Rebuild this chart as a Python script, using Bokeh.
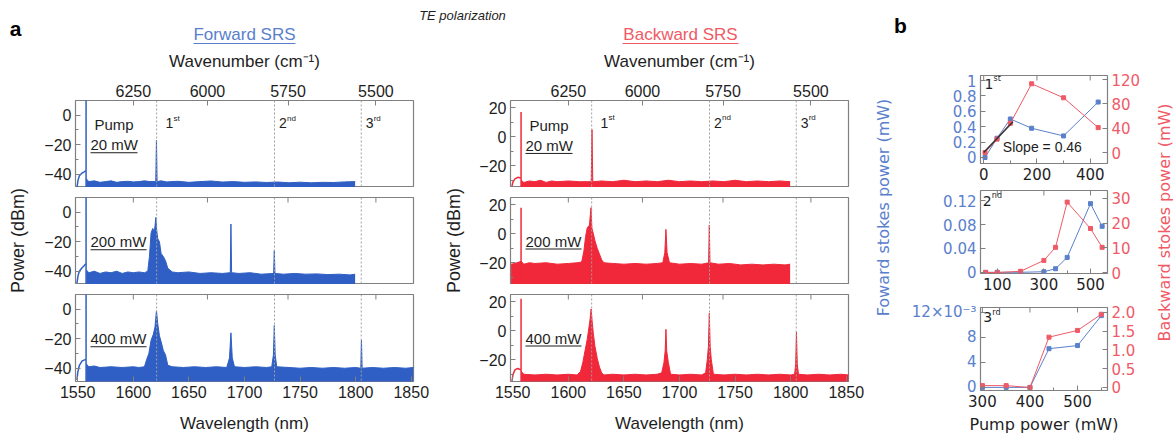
import math
from bokeh.plotting import figure
from bokeh.models import Range1d, LinearAxis, FixedTicker, CustomJSTickFormatter, Span
from bokeh.layouts import row, column
from bokeh.embed import file_html
from bokeh.resources import INLINE
from bokeh.core.properties import value

FONT = "Liberation Sans"
FONT_B = "DejaVu Sans"
BLUE = "#2f5fc4"
RED = "#f0283a"
BLUE_L = "#5a80cc"
RED_L = "#ef5a66"
FRAME = "#808080"
TXT = "#1e1e1e"

# ---------------- data : panel a ----------------
wavelength_ticks = [1550, 1600, 1650, 1700, 1750, 1800, 1850]
wavenumber_ticks = [6250, 6000, 5750, 5500]
fwd_db_ticks = [-40, -20, 0]
bwd_db_ticks = [-20, 0, 20]
pump_wl = 1557.5
stokes_wl = [1621, 1727, 1805]
stokes_names = [("1", "st"), ("2", "nd"), ("3", "rd")]
stokes_label_wl = [1629, 1731, 1809]
pump_powers_a = ["20 mW", "200 mW", "400 mW"]
fwd_pump_peak = [15, 15, 15]
bwd_pump_peak = [17, 18, 22]

fwd_20mw = [
    (1557.6, -43), (1560, -45), (1565, -44.5), (1570, -45.5), (1575, -45), (1580, -44.5),
    (1585, -45.5), (1590, -45), (1595, -44.8), (1600, -45.2), (1605, -45), (1610, -44.5),
    (1615, -45), (1620.2, -45), (1620.8, -17), (1621.4, -45), (1625, -44.5), (1630, -45.2),
    (1640, -44.8), (1650, -45.5), (1660, -45), (1670, -44.6), (1680, -45.3), (1690, -45),
    (1700, -45.5), (1710, -45.2), (1720, -45.6), (1730, -45.3), (1740, -45.8), (1750, -45.4),
    (1760, -45.8), (1770, -45.5), (1780, -45.6), (1790, -45.2), (1799.5, -45)]
fwd_200mw = [
    (1557.6, -39), (1560, -41), (1565, -40), (1570, -41.5), (1575, -40.5), (1580, -41),
    (1585, -40), (1590, -41.5), (1595, -40.5), (1600, -41), (1605, -40.5), (1610, -41),
    (1613, -40), (1614.5, -30), (1616, -14), (1617.5, -11), (1619, -13), (1620.3, -3.5),
    (1621, -12), (1622, -18), (1623.5, -20), (1625, -28), (1627, -30), (1629, -33),
    (1631, -38), (1635, -40.5), (1640, -41), (1650, -40.5), (1660, -41.5), (1670, -41),
    (1680, -41.5), (1687.2, -41), (1687.8, -8), (1688.4, -41), (1695, -41.5), (1705, -41),
    (1715, -42), (1726.2, -41.5), (1726.8, -26), (1727.4, -41.5), (1735, -42), (1745, -41.5),
    (1755, -42), (1765, -41.8), (1775, -42.3), (1785, -42), (1795, -42.5), (1799.5, -42)]
fwd_400mw = [
    (1557.6, -37), (1560, -39), (1565, -38.5), (1570, -39.5), (1580, -39), (1590, -39.5),
    (1600, -39), (1605, -39.5), (1610, -39), (1612, -34), (1614, -30), (1616, -21),
    (1618, -17), (1619.5, -12), (1620.8, -1), (1622, -10), (1623.5, -18), (1625, -22),
    (1627, -28), (1629, -31), (1631, -38), (1635, -39), (1645, -39.5), (1655, -39),
    (1665, -39.5), (1675, -39), (1684, -39.5), (1686.5, -33), (1687.8, -16), (1689, -33),
    (1691, -39), (1700, -39.5), (1710, -39), (1720, -39.5), (1724.5, -39), (1726, -31),
    (1726.8, -11), (1727.6, -31), (1729, -39), (1740, -39.5), (1750, -40), (1760, -39.5),
    (1770, -40), (1780, -39.5), (1790, -40), (1800, -39.5), (1804.6, -40), (1805.2, -21),
    (1805.8, -40), (1815, -39.5), (1825, -40), (1835, -39.5), (1845, -40), (1852, -39.5)]
bwd_20mw = [
    (1557.6, -30), (1560, -31.5), (1565, -30.5), (1570, -31), (1575, -30), (1580, -31.5),
    (1585, -30.5), (1590, -31), (1600, -30.5), (1610, -31), (1620.6, -31), (1621.3, 5),
    (1622, -31), (1630, -30.5), (1640, -31), (1650, -30), (1660, -31), (1670, -30.5),
    (1680, -31), (1690, -30), (1700, -31), (1710, -30.5), (1720, -31), (1730, -30.5),
    (1740, -31), (1750, -30), (1760, -31), (1770, -30.5), (1780, -31), (1790, -30.5),
    (1799.5, -31)]
bwd_200mw = [
    (1548.5, -21), (1552, -20.5), (1557.6, -19), (1560, -21), (1565, -20), (1570, -20.5),
    (1580, -20), (1590, -21), (1600, -20.5), (1608, -20), (1612, -19.5), (1614, -12),
    (1615.5, -2), (1617, 4), (1619, 6), (1620.4, 18), (1621.2, 4), (1622.5, 0), (1624, -5),
    (1626, -10), (1628, -14), (1630, -18), (1632, -20), (1640, -20.5), (1650, -21),
    (1660, -20.5), (1670, -21), (1680, -20.5), (1685, -20), (1686.8, -13), (1687.8, 3),
    (1688.8, -13), (1691, -20), (1700, -21), (1710, -20.5), (1720, -21), (1726.2, -20),
    (1726.8, 6), (1727.4, -20), (1735, -21), (1745, -20.5), (1755, -21.5), (1765, -21),
    (1775, -21.5), (1785, -21), (1795, -21.5), (1799.5, -21)]
bwd_400mw = [
    (1557.6, -28), (1560, -30), (1570, -30.5), (1580, -30), (1590, -30.5), (1600, -30),
    (1608, -30.5), (1611, -28), (1613, -22), (1615, -14), (1617, -6), (1618.5, 2),
    (1619.6, 8), (1620.5, 15), (1621.4, 7), (1622.5, -2), (1624, -11), (1626, -19),
    (1628, -25), (1630, -29), (1632, -30.5), (1640, -30), (1650, -30.5), (1660, -30),
    (1670, -30.5), (1680, -30), (1684, -29), (1686, -22), (1687.1, -14), (1687.8, 1),
    (1688.5, -14), (1690, -22), (1692, -30), (1700, -30.5), (1710, -30), (1720, -30.5),
    (1723.5, -29), (1725, -20), (1726, -11), (1726.8, 12), (1727.6, -11), (1728.6, -20),
    (1730.5, -30), (1740, -30.5), (1750, -30), (1760, -30.5), (1770, -30), (1780, -30.5),
    (1790, -30), (1800, -30.5), (1803.5, -30), (1804.5, -23), (1805.2, -1), (1805.9, -23),
    (1807, -30), (1815, -30.5), (1825, -30), (1835, -30.5), (1845, -30), (1852, -30.5)]

fwd_shoulder = [
    [(1549.3, -49), (1550.3, -44), (1551.5, -41), (1553.5, -39.5), (1555.5, -38.5), (1557.3, -37.5)],
    [(1549.3, -48), (1550.3, -43), (1551.5, -40), (1553.5, -38), (1555.5, -36.5), (1557.3, -35)],
    [(1549.3, -48), (1550, -43), (1551.5, -38), (1554, -35), (1557.3, -34)]]
bwd_shoulder = [
    [(1549.3, -34), (1550.3, -31), (1552, -29), (1554.5, -28), (1557.3, -28.5)],
    [],
    [(1549.3, -35), (1550.3, -30), (1552, -27), (1554.5, -26), (1557.3, -27)]]

# ---------------- data : panel b ----------------
pump_1st = [5, 50, 100, 180, 300, 430]
fwd_1st = [0.0, 0.25, 0.5, 0.38, 0.28, 0.72]
bwd_1st = [0, 22, 48, 113, 90, 41]
fit_x = [0, 110]
fit_y = [0, 50.6]
pump_2nd = [50, 100, 200, 300, 350, 400, 500, 550]
fwd_2nd = [0, 0, 0, 0.001, 0.006, 0.025, 0.115, 0.077]
bwd_2nd = [0, 0, 0.5, 4.9, 10.2, 28.5, 17.8, 10.2]
pump_3rd = [300, 350, 400, 440, 500, 550]
fwd_3rd = [0, 0, 0, 0.0062, 0.0067, 0.0115]
bwd_3rd = [0.05, 0.05, 0, 1.34, 1.52, 1.95]


def minus_fmt():
    return CustomJSTickFormatter(code="return tick.toString().replace('-', '\u2212');")


def style_axis(ax, size="16px", color=TXT, font=FONT, label_size="17px"):
    ax.major_label_text_font = font
    ax.major_label_text_font_size = size
    ax.major_label_text_color = color
    ax.axis_line_color = None
    ax.major_tick_line_color = FRAME
    ax.minor_tick_line_color = FRAME
    ax.major_tick_in = 5
    ax.major_tick_out = 0
    ax.minor_tick_in = 3
    ax.minor_tick_out = 0
    ax.major_label_standoff = 4
    ax.axis_label_text_font = font
    ax.axis_label_text_font_style = "normal"
    ax.axis_label_text_font_size = label_size
    ax.axis_label_text_color = TXT


def base_fig(w, h, xr, yr, left, right, top, bottom, outline=True):
    p = figure(width=w, height=h, x_range=Range1d(*xr), y_range=Range1d(*yr),
               output_backend="svg", toolbar_location=None, tools="",
               x_axis_location=None, y_axis_location=None,
               min_border_left=left, min_border_right=right,
               min_border_top=top, min_border_bottom=bottom)
    p.outline_line_color = FRAME if outline else None
    p.outline_line_width = 1.2
    p.background_fill_color = "white"
    p.border_fill_color = "white"
    for g in p.grid:
        g.visible = False
    return p


def top_ticks(p, xs, yr, frame_h, length=5):
    # mirrored tick marks along the top edge of a frame, from the tick positions
    d = (yr[1] - yr[0]) / frame_h * length
    p.segment(x0=xs, y0=[yr[1]] * len(xs), x1=xs, y1=[yr[1] - d] * len(xs),
              line_color=FRAME, line_width=1)


FRAME_W = 338
ROWS = [dict(top=52, frame=87, bottom=0), dict(top=10, frame=87, bottom=0),
        dict(top=10, frame=87, bottom=56)]


def spectrum_panel(i, backward):
    r = ROWS[i]
    left, right = (40, 20) if backward else (35, 20)
    yr = (-35, 25) if backward else (-49, 10)
    yticks = bwd_db_ticks if backward else fwd_db_ticks
    color = RED if backward else BLUE
    data = [bwd_20mw, bwd_200mw, bwd_400mw][i] if backward else [fwd_20mw, fwd_200mw, fwd_400mw][i]
    shoulder = bwd_shoulder[i] if backward else fwd_shoulder[i]
    peak = bwd_pump_peak[i] if backward else fwd_pump_peak[i]
    h = r["top"] + r["frame"] + r["bottom"]
    p = base_fig(left + FRAME_W + right, h, (1548, 1852), yr, left, right, r["top"], r["bottom"])
    dbpx = (yr[1] - yr[0]) / r["frame"]
    nmpx = 304 / FRAME_W

    minor = [t + 10 for t in yticks] + [yticks[0] - 10]
    ya = LinearAxis(ticker=FixedTicker(ticks=yticks, minor_ticks=minor), formatter=minus_fmt())
    style_axis(ya)
    p.add_layout(ya, "left")

    wn_pos = [1e7 / w for w in wavenumber_ticks]
    if i == 0:
        ta = LinearAxis(ticker=FixedTicker(ticks=wn_pos),
                        formatter=CustomJSTickFormatter(code="return (1e7/tick).toFixed(0);"))
        style_axis(ta)
        ta.axis_label = "Wavenumber (cm\u207b\u00b9)"
        ta.axis_label_standoff = 11
        p.add_layout(ta, "above")
    else:
        top_ticks(p, wn_pos, yr, r["frame"])

    if i == 2:
        ba = LinearAxis(ticker=FixedTicker(ticks=wavelength_ticks))
        style_axis(ba)
        ba.axis_label = "Wavelength (nm)"
        ba.axis_label_standoff = 13
        p.add_layout(ba, "below")

    for w in stokes_wl:
        p.add_layout(Span(location=w, dimension="height", line_color="#a0a0a0",
                          line_dash="2 2", line_width=1))

    wl = [d[0] for d in data]
    db = [d[1] for d in data]
    p.varea(x=wl, y1=[-60] * len(wl), y2=db, fill_color=color, fill_alpha=1)
    p.line(wl, db, line_color=color, line_width=1)
    p.segment(x0=[pump_wl], y0=[-60], x1=[pump_wl], y1=[peak], line_color=color, line_width=1.5)
    if shoulder:
        p.line([s[0] for s in shoulder], [s[1] for s in shoulder], line_color=color, line_width=1.5)

    # power label (underlined)
    if backward:
        ly = -6 if i == 0 else -5
    else:
        ly = -20
    lx = 1561.5
    txt = pump_powers_a[i]
    p.text(x=[lx], y=[ly], text=[txt], text_font=value(FONT), text_font_size="15px",
           text_color=TXT, text_align="left", text_baseline="middle")
    wpx = {"20 mW": 47, "200 mW": 56, "400 mW": 56}[txt]
    uy = ly - 8 * dbpx
    p.segment(x0=[lx], y0=[uy], x1=[lx + wpx * nmpx], y1=[uy], line_color=TXT, line_width=1)

    if i == 0:
        py = 8 if backward else -6
        p.text(x=[1565], y=[py], text=["Pump"], text_font=value(FONT), text_font_size="15px",
               text_color=TXT, text_align="left", text_baseline="middle")
        sy = 9.5 if backward else -5.5
        for (n, suf), x in zip(stokes_names, stokes_label_wl):
            p.text(x=[x], y=[sy], text=[n], text_font=value(FONT), text_font_size="14px",
                   text_color=TXT, text_align="left", text_baseline="middle")
            p.text(x=[x], y=[sy], text=[suf], text_font=value(FONT), text_font_size="8px",
                   text_color=TXT, text_align="left", text_baseline="middle",
                   x_offset=8, y_offset=-5)
    return p


col_f = column(*[spectrum_panel(i, False) for i in range(3)])
col_bw = column(*[spectrum_panel(i, True) for i in range(3)])


def text_fig(w, h, x0, x1, y0, y1):
    p = base_fig(w, h, (x0, x1), (y1, y0), 0, 0, 0, 0, outline=False)
    return p


# header
hdr = text_fig(1173, 48, 0, 1173, 0, 48)
hdr.text(x=[15], y=[28], text=["a"], text_font=value(FONT), text_font_size="21px",
         text_font_style="bold", text_color="black", text_align="center", text_baseline="middle")
hdr.text(x=[900], y=[25], text=["b"], text_font=value(FONT), text_font_size="21px",
         text_font_style="bold", text_color="black", text_align="center", text_baseline="middle")
hdr.text(x=[462], y=[15], text=["TE polarization"], text_font=value(FONT), text_font_size="13px",
         text_font_style="italic", text_color=TXT, text_align="center", text_baseline="middle")
hdr.text(x=[244], y=[34], text=["Forward SRS"], text_font=value(FONT), text_font_size="17px",
         text_color=BLUE_L, text_align="center", text_baseline="middle")
hdr.segment(x0=[193], y0=[43], x1=[295], y1=[43], line_color=BLUE_L, line_width=1)
hdr.text(x=[680], y=[34], text=["Backward SRS"], text_font=value(FONT), text_font_size="17px",
         text_color=RED_L, text_align="center", text_baseline="middle")
hdr.segment(x0=[622], y0=[43], x1=[738], y1=[43], line_color=RED_L, line_width=1)

# side label figures
lf = text_fig(40, 389, 0, 40, 48, 437)
lf.text(x=[17], y=[240], text=["Power (dBm)"], angle=math.pi / 2, text_font=value(FONT),
        text_font_size="18px", text_color=TXT, text_align="center", text_baseline="middle")
lb = text_fig(37, 389, 433, 470, 48, 437)
lb.text(x=[453], y=[240], text=["Power (dBm)"], angle=math.pi / 2, text_font=value(FONT),
        text_font_size="18px", text_color=TXT, text_align="center", text_baseline="middle")
lbl = text_fig(32, 389, 868, 900, 48, 437)
lbl.text(x=[883], y=[207], text=["Foward stokes power (mW)"], angle=math.pi / 2,
         text_font=value(FONT_B), text_font_size="16px", text_color=BLUE_L,
         text_align="center", text_baseline="middle")
lbr = text_fig(23, 389, 1150, 1173, 48, 437)
lbr.text(x=[1164], y=[222], text=["Backward stokes power (mW)"], angle=math.pi / 2,
         text_font=value(FONT_B), text_font_size="16px", text_color=RED_L,
         text_align="center", text_baseline="middle")


def b_panel(top, frame, bottom, xr, ylr, yrr, xt, xmin, ylt, yrt, fmt_l, fmt_r,
            x, yf, yb, tag, tag_xy, xlabel=None):
    h = top + frame + bottom
    p = base_fig(250, h, xr, ylr, 80, 43, top, bottom)
    p.extra_y_ranges = {"bwd": Range1d(*yrr)}
    la = LinearAxis(ticker=FixedTicker(ticks=ylt), formatter=CustomJSTickFormatter(code=fmt_l))
    style_axis(la, size="15px", color=BLUE_L, font=FONT_B)
    p.add_layout(la, "left")
    ra = LinearAxis(y_range_name="bwd", ticker=FixedTicker(ticks=yrt),
                    formatter=CustomJSTickFormatter(code=fmt_r))
    style_axis(ra, size="15px", color=RED_L, font=FONT_B)
    p.add_layout(ra, "right")
    ba = LinearAxis(ticker=FixedTicker(ticks=xt, minor_ticks=xmin))
    style_axis(ba, size="15px", color=TXT, font=FONT_B, label_size="16px")
    if xlabel:
        ba.axis_label = xlabel
        ba.axis_label_standoff = 5
    p.add_layout(ba, "below")
    top_ticks(p, xt, ylr, frame)

    p.line(x, yf, line_color=BLUE_L, line_width=1)
    p.scatter(x, yf, marker="square", size=4, color=BLUE_L)
    p.line(x, yb, line_color=RED_L, line_width=1, y_range_name="bwd")
    p.scatter(x, yb, marker="square", size=4, color=RED_L, y_range_name="bwd")
    p.text(x=[tag_xy[0]], y=[tag_xy[1]], text=[tag[0]], text_font=value(FONT_B),
           text_font_size="14px", text_color=TXT, text_align="left", text_baseline="middle")
    p.text(x=[tag_xy[0]], y=[tag_xy[1]], text=[tag[1]], text_font=value(FONT_B),
           text_font_size="8px", text_color=TXT, text_align="left", text_baseline="middle",
           x_offset=9, y_offset=-5)
    return p


g1 = b_panel(27, 88, 22, (-12, 465), (-0.078, 1.065), (-18, 126.6), [0, 200, 400], [100, 300],
             [0, 0.2, 0.4, 0.6, 0.8, 1.0], [0, 40, 80, 120],
             "return (Math.round(tick*10)/10).toString();", "return tick.toFixed(0);",
             pump_1st, fwd_1st, bwd_1st, ("1", "st"), (3, 0.96))
g1.line(fit_x, fit_y, line_color="#333333", line_width=1.5, y_range_name="bwd")
g1.text(x=[72], y=[0.13], text=["Slope = 0.46"], text_font=value(FONT), text_font_size="14px",
        text_color=TXT, text_align="left", text_baseline="middle")
g2 = b_panel(5, 83, 27, (28, 573), (-0.002, 0.137), (-0.4, 33.2), [100, 300, 500], [200, 400],
             [0, 0.04, 0.08, 0.12], [0, 10, 20, 30],
             "return (Math.round(tick*100)/100).toString();", "return tick.toFixed(0);",
             pump_2nd, fwd_2nd, bwd_2nd, ("2", "nd"), (38, 0.12))
g3 = b_panel(7, 83, 47, (296, 563), (-0.0005, 0.0128), (-0.08, 2.13), [300, 400, 500],
             [350, 450, 550], [0, 0.004, 0.008, 0.012], [0, 0.5, 1.0, 1.5, 2.0],
             "var v = Math.round(tick*1000); return v == 12 ? '12\u00d710\u207b\u00b3' : v.toString();",
             "return tick == 0 ? '0' : tick.toFixed(1);",
             pump_3rd, fwd_3rd, bwd_3rd, ("3", "rd"), (302, 0.0112), xlabel="Pump power (mW)")
col_g = column(g1, g2, g3)

main = row(lf, col_f, lb, col_bw, lbl, col_g, lbr)
layout = column(hdr, main)

open("out.html", "w").write(file_html(layout, INLINE))
